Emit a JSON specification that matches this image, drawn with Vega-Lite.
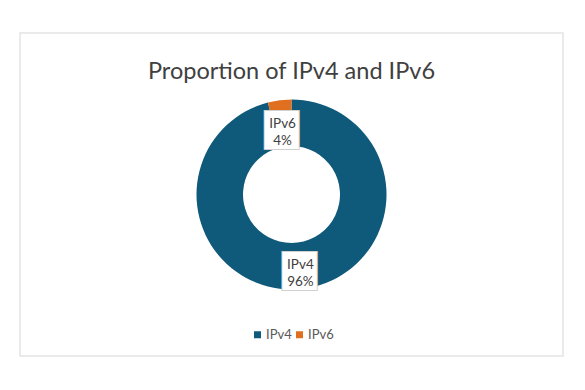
{
  "$schema": "https://vega.github.io/schema/vega-lite/v6.json",
  "width": 543,
  "height": 323,
  "autosize": {"type": "none"},
  "padding": {"left": 20, "top": 33, "right": 22, "bottom": 34},
  "background": "white",
  "view": {"stroke": "#e3e3e3", "strokeWidth": 1.5},
  "title": {"text": "Proportion of IPv4 and IPv6", "fontSize": 23.5, "font": "Lato", "fontWeight": "normal", "color": "#404040", "baseline": "alphabetic", "offset": -47, "dy": 22, "anchor": "middle"},
  "data": {"values": [
    {"protocol": "IPv4", "share": 96, "label": "IPv4\n96%", "order": 1},
    {"protocol": "IPv6", "share": 4, "label": "IPv6\n4%", "order": 2}
  ]},
  "encoding": {
    "theta": {"field": "share", "type": "quantitative", "stack": true},
    "order": {"field": "order", "type": "quantitative"}
  },
  "layer": [
    {
      "mark": {"type": "arc", "radius": 95, "radius2": 48.5},
      "encoding": {
        "color": {
          "field": "protocol", "type": "nominal",
          "scale": {"domain": ["IPv4", "IPv6"], "range": ["#0f5a7a", "#e0701f"]},
          "legend": {"orient": "none", "legendX": 231, "legendY": 295, "direction": "horizontal", "title": null, "symbolType": "square", "symbolSize": 49, "labelFont": "Lato", "labelFontSize": 13, "labelColor": "#595959", "columnPadding": 1, "labelOffset": 2}
        }
      }
    },
    {
      "mark": {"type": "text", "text": "█▍", "radius": 71, "fontSize": 32, "dx": 7, "dy": 7, "font": "DejaVu Sans", "color": "white", "stroke": "#d0d0d0", "strokeWidth": 2, "baseline": "middle"}
    },
    {
      "mark": {"type": "text", "text": "█▍", "radius": 71, "fontSize": 32, "dx": 7, "dy": 7, "font": "DejaVu Sans", "color": "white", "baseline": "middle"}
    },
    {
      "mark": {"type": "text", "radius": 71, "fontSize": 13.5, "font": "Lato", "color": "#404040", "lineBreak": "\n", "lineHeight": 17, "baseline": "middle"},
      "encoding": {"text": {"field": "label", "type": "nominal"}}
    }
  ],
  "config": {"view": {"stroke": "#e3e3e3"}}
}
